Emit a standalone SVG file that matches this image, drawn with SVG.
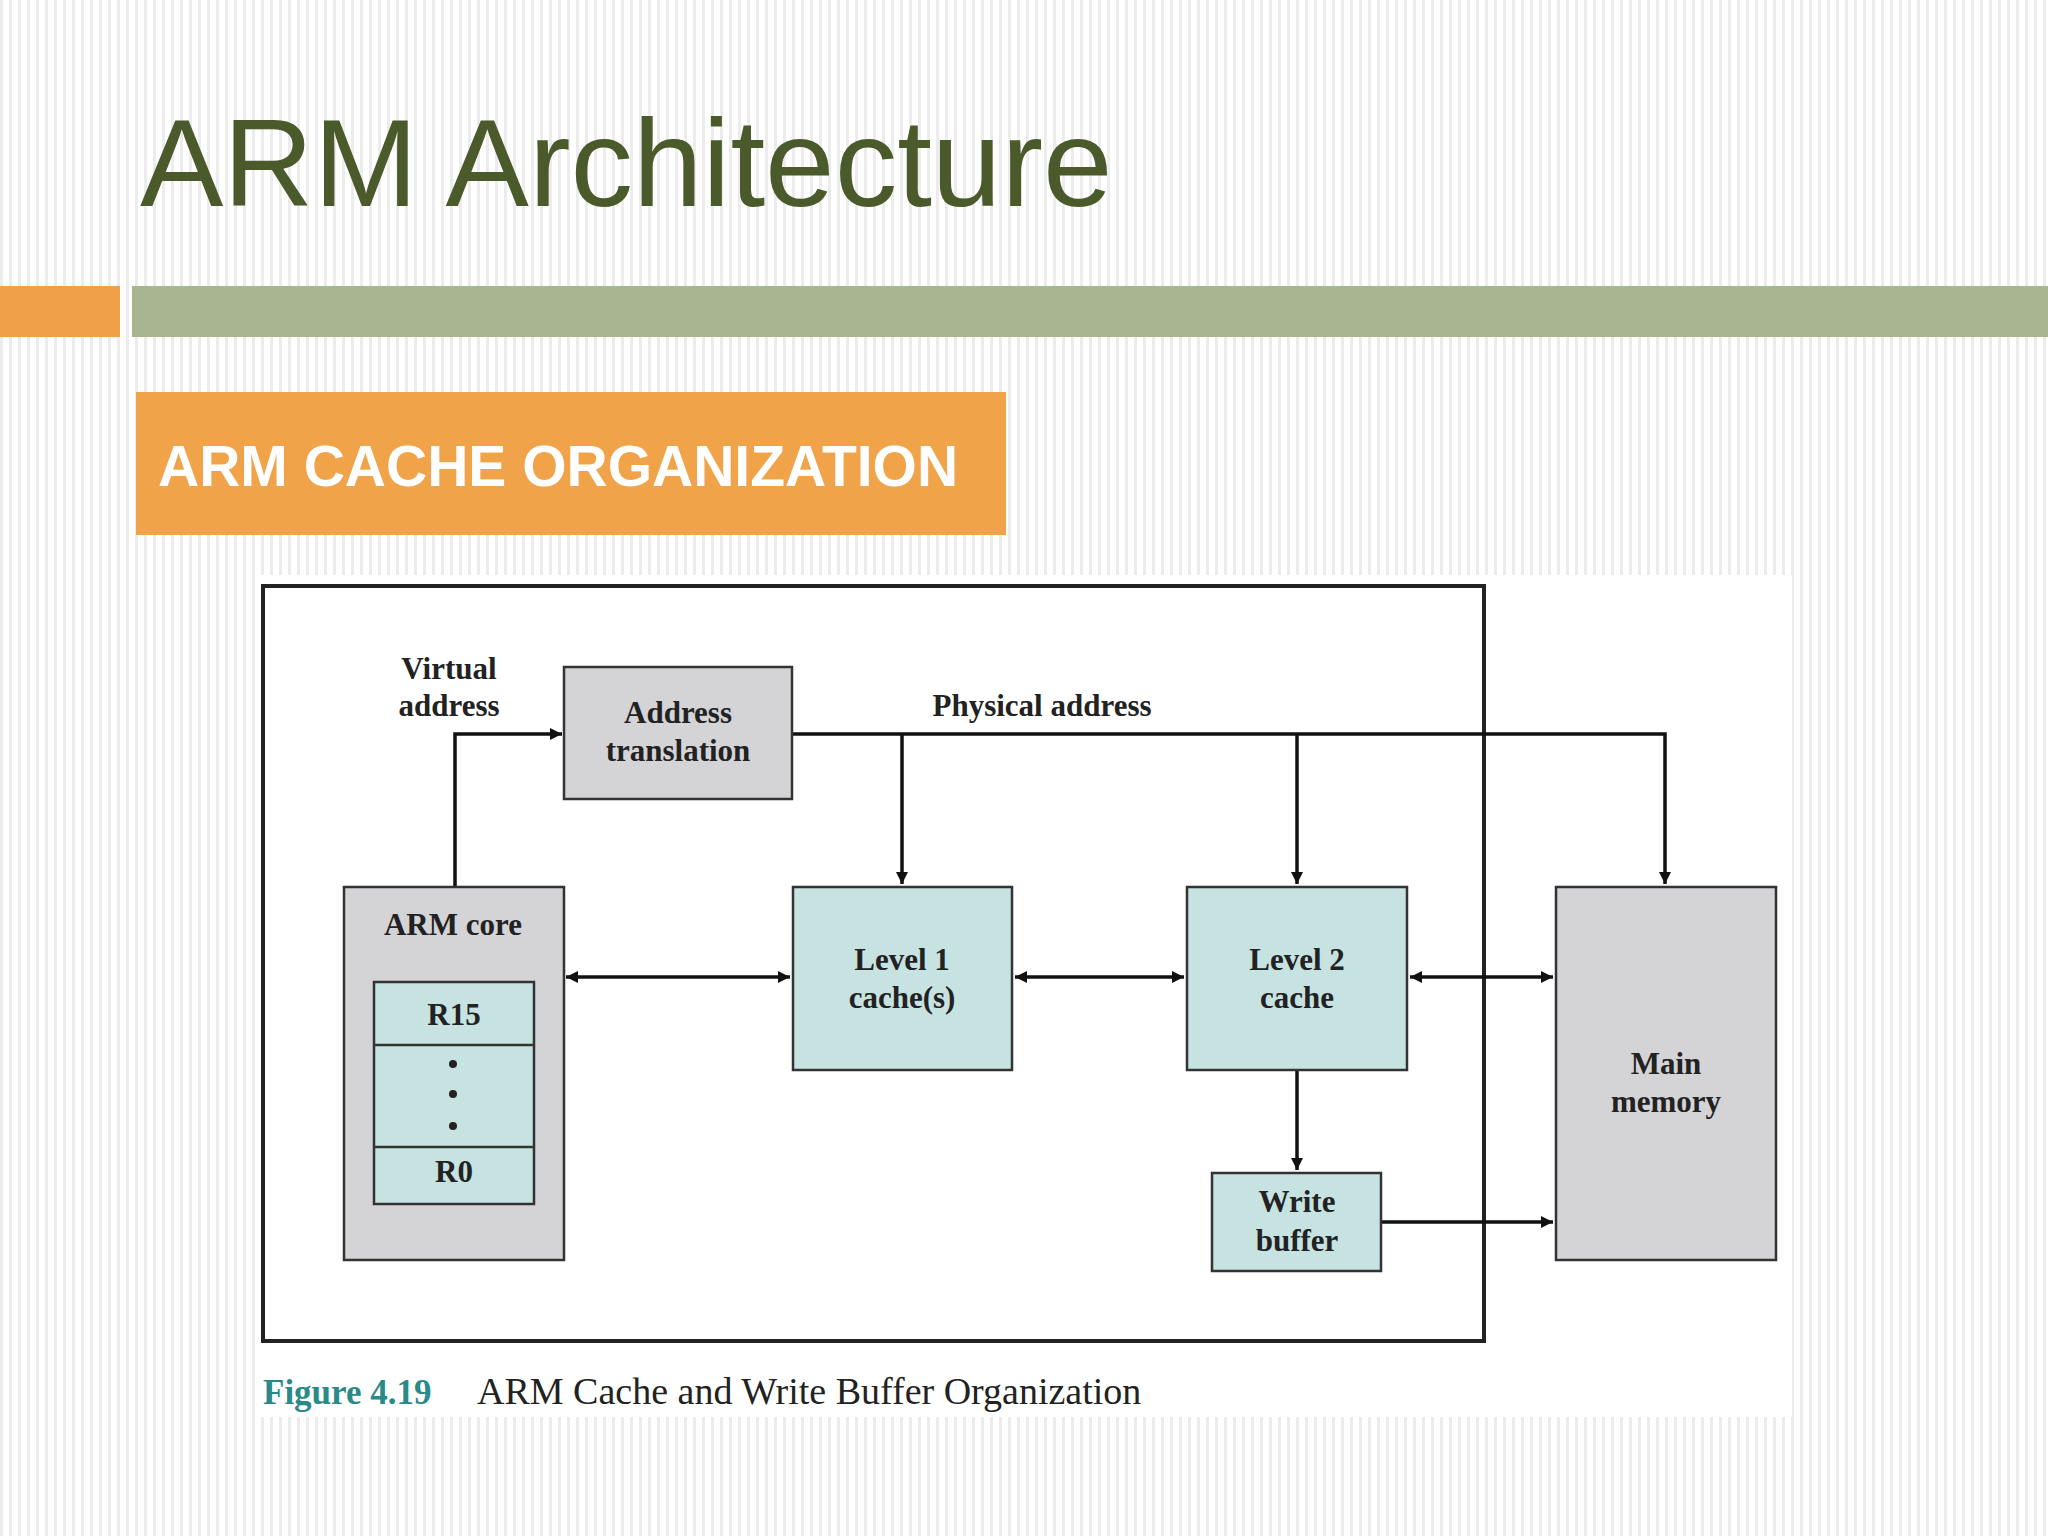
<svg xmlns="http://www.w3.org/2000/svg" width="2048" height="1536" viewBox="0 0 2048 1536">
<defs>
<pattern id="stripes" width="9" height="10" patternUnits="userSpaceOnUse"><rect width="9" height="10" fill="#ffffff"/><rect x="0" width="3" height="10" fill="#ececec"/></pattern>
<marker id="ah" viewBox="0 0 10 10" refX="10" refY="5" markerWidth="18" markerHeight="12" markerUnits="userSpaceOnUse" orient="auto-start-reverse"><path d="M0,0 L10,5 L0,10 z" fill="#111"/></marker>
<style>
.box{stroke:#333;stroke-width:2.5}
.g{fill:#d4d4d7}
.t{fill:#c6e3e2}
.lbl{font-family:"Liberation Serif",serif;font-weight:bold;font-size:31px;fill:#222;text-anchor:middle}
.ln{stroke:#111;stroke-width:3.5;fill:none}
</style>
</defs>
<rect width="2048" height="1536" fill="url(#stripes)"/>
<text x="140" y="206" font-family="Liberation Sans,Arial,sans-serif" font-size="125" fill="#4b5a2b">ARM Architecture</text>
<rect x="0" y="286" width="120" height="51" fill="#f0a048"/>
<rect x="132" y="286" width="1916" height="51" fill="#a8b590"/>
<rect x="136" y="392" width="870" height="143" fill="#f0a348"/>
<text x="158" y="486" font-family="Liberation Sans,Arial,sans-serif" font-weight="bold" font-size="57" fill="#fff">ARM CACHE ORGANIZATION</text>
<rect x="255" y="575" width="1537" height="842" fill="#fff"/>
<rect x="263" y="586" width="1221" height="755" fill="none" stroke="#222" stroke-width="4"/>
<g id="connectors">
<path class="ln" d="M792,734 H1665 V884" marker-end="url(#ah)"/>
<path class="ln" d="M902,734 V884" marker-end="url(#ah)"/>
<path class="ln" d="M1297,734 V884" marker-end="url(#ah)"/>
<path class="ln" d="M455,887 V734 H562" marker-end="url(#ah)"/>
<path class="ln" d="M566,977 H790" marker-start="url(#ah)" marker-end="url(#ah)"/>
<path class="ln" d="M1015,977 H1184" marker-start="url(#ah)" marker-end="url(#ah)"/>
<path class="ln" d="M1410,977 H1553" marker-start="url(#ah)" marker-end="url(#ah)"/>
<path class="ln" d="M1297,1070 V1170" marker-end="url(#ah)"/>
<path class="ln" d="M1381,1222 H1553" marker-end="url(#ah)"/>
</g>
<text class="lbl" x="449" y="679">Virtual</text>
<text class="lbl" x="449" y="716">address</text>
<text class="lbl" x="1042" y="716">Physical address</text>
<g id="addr"><rect class="box g" x="564" y="667" width="228" height="132"/><text class="lbl" x="678" y="723">Address</text><text class="lbl" x="678" y="761">translation</text></g>
<g id="core"><rect class="box g" x="344" y="887" width="220" height="373"/><text class="lbl" x="453" y="935">ARM core</text>
<rect class="box t" x="374" y="982" width="160" height="222"/><line class="box" x1="374" y1="1045" x2="534" y2="1045"/><line class="box" x1="374" y1="1147" x2="534" y2="1147"/>
<text class="lbl" x="454" y="1025">R15</text><circle cx="453" cy="1064" r="4" fill="#222"/><circle cx="453" cy="1094" r="4" fill="#222"/><circle cx="453" cy="1126" r="4" fill="#222"/><text class="lbl" x="454" y="1182">R0</text></g>
<g id="l1"><rect class="box t" x="793" y="887" width="219" height="183"/><text class="lbl" x="902" y="970">Level 1</text><text class="lbl" x="902" y="1008">cache(s)</text></g>
<g id="l2"><rect class="box t" x="1187" y="887" width="220" height="183"/><text class="lbl" x="1297" y="970">Level 2</text><text class="lbl" x="1297" y="1008">cache</text></g>
<g id="mem"><rect class="box g" x="1556" y="887" width="220" height="373"/><text class="lbl" x="1666" y="1074">Main</text><text class="lbl" x="1666" y="1112">memory</text></g>
<g id="wb"><rect class="box t" x="1212" y="1173" width="169" height="98"/><text class="lbl" x="1297" y="1212">Write</text><text class="lbl" x="1297" y="1251">buffer</text></g>
<text x="263" y="1404" font-family="Liberation Serif,serif" font-weight="bold" font-size="35" fill="#2a8a8a">Figure 4.19</text>
<text x="477" y="1404" font-family="Liberation Serif,serif" font-size="38" fill="#222">ARM Cache and Write Buffer Organization</text>
</svg>
